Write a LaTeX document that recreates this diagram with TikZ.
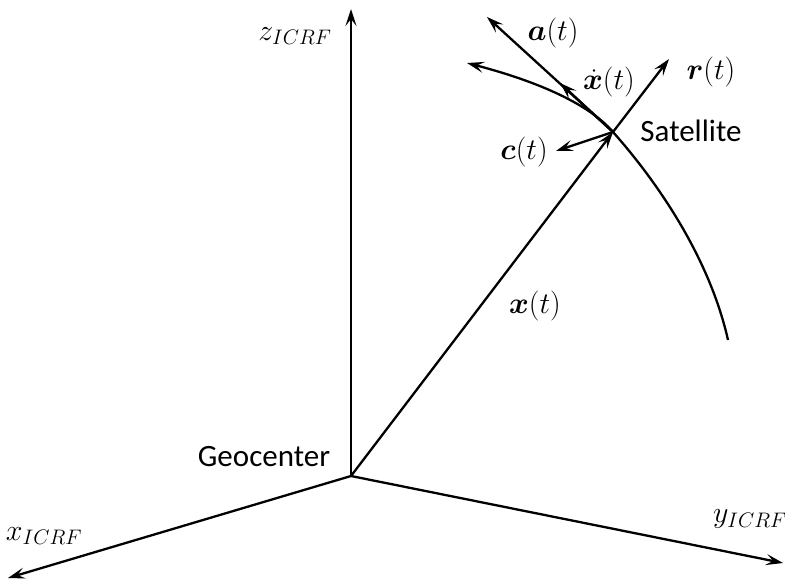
\RequirePackage{fix-cm}
\documentclass[tikz,border=0pt]{standalone}
\usepackage[no-math]{fontspec}
\setmainfont{Carlito}
\usepackage{bm}
\usetikzlibrary{arrows.meta}
\begin{document}
\begin{tikzpicture}[x=1pt,y=-1pt,
  vec/.style={line width=2.3pt,-{Stealth[length=17pt,width=11pt,inset=7pt]}},
  lbl/.style={inner sep=0pt,font=\fontsize{31}{36}\selectfont},
  mlbl/.style={inner sep=0pt,font=\fontsize{30}{36}\selectfont}]
\useasboundingbox (0,0) rectangle (785,586);
\coordinate (O) at (351,476);
\coordinate (Ze) at (351,9);
\coordinate (Xe) at (8,578);
\coordinate (Ye) at (783,563);
\coordinate (S) at (613,132);
\coordinate (Re) at (669,59);
\coordinate (Ae) at (487,17);
\coordinate (Ve) at (560,83);
\coordinate (Ce) at (556,151);
\coordinate (Ob) at (728,340);
\coordinate (Ot) at (467,63);
% axes
\draw[vec] (O) -- (Ze);
\draw[vec] (O) -- (Xe);
\draw[vec] (O) -- (Ye);
% position vector
\draw[vec] (O) -- (S);
% local vectors
\draw[vec] (S) -- (Re);
\draw[vec] (S) -- (Ae);
\draw[vec] (S) -- (Ve);
\draw[vec] (S) -- (Ce);
% orbit
\draw[vec] (Ob) .. controls (710,260) and (660,185) .. (S) .. controls (590,105) and (540,82) .. (Ot);
% labels
\node[mlbl] (zl) at (295,36) {$z_{ICRF}$};
\node[mlbl] (xl) at (44,536) {$x_{ICRF}$};
\node[mlbl] (yl) at (750,519) {$y_{ICRF}$};
\node[mlbl] (al) at (553,33) {$\bm{a}(t)$};
\node[mlbl] (vl) at (609,82) {$\dot{\bm{x}}(t)$};
\node[mlbl] (rl) at (711,72) {$\bm{r}(t)$};
\node[mlbl] (cl) at (524,152) {$\bm{c}(t)$};
\node[mlbl] (xtl) at (535,306) {$\bm{x}(t)$};
\node[lbl] (sl) at (691,131) {Satellite};
\node[lbl] (gl) at (264,457) {Geocenter};
\end{tikzpicture}
\end{document}
